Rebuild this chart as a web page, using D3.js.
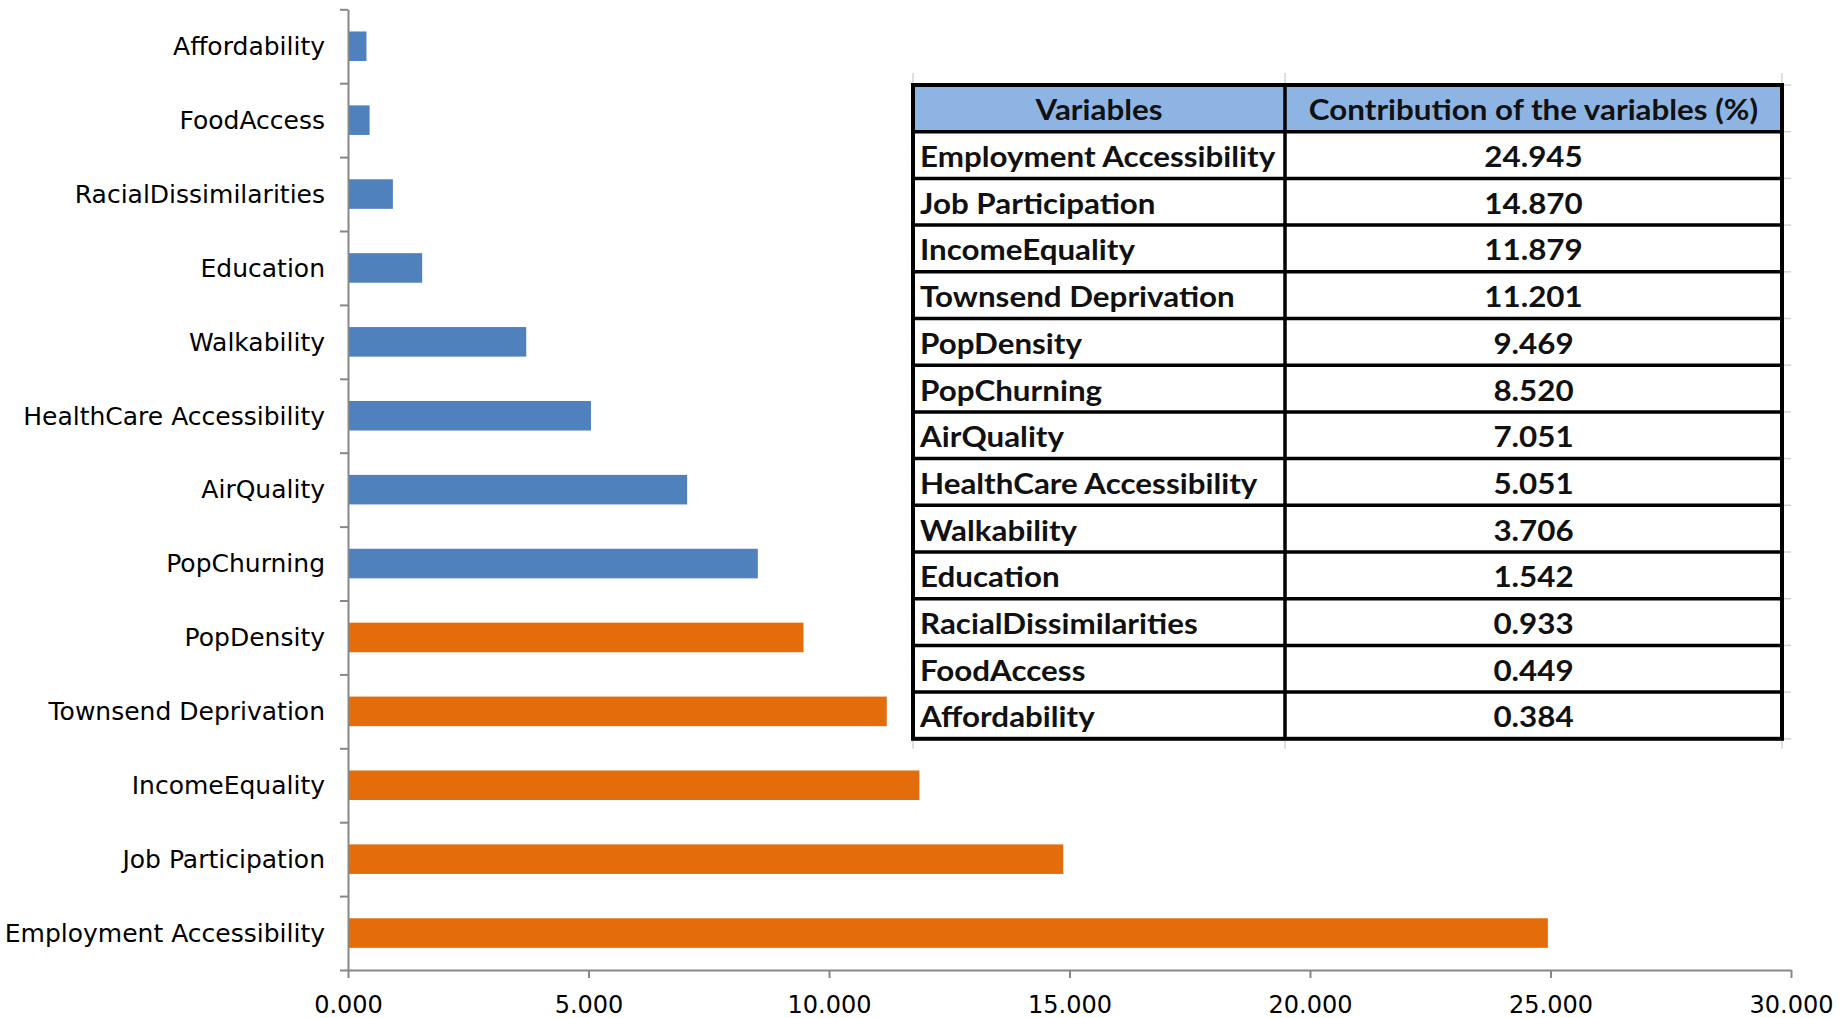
<!DOCTYPE html>
<html><head><meta charset="utf-8">
<script src="https://cdn.jsdelivr.net/npm/d3@7"></script>
<style>html,body{margin:0;padding:0;background:#fff;}svg{display:block}</style>
</head><body><svg id="chart" width="1845" height="1018"></svg>
<script>
// ---- data ----
const variables = ["Employment Accessibility","Job Participation","IncomeEquality","Townsend Deprivation","PopDensity","PopChurning","AirQuality","HealthCare Accessibility","Walkability","Education","RacialDissimilarities","FoodAccess","Affordability"];
const contributions = [24.945,14.870,11.879,11.201,9.469,8.520,7.051,5.051,3.706,1.542,0.933,0.449,0.384];
const groups = ["high","high","high","high","high","low","low","low","low","low","low","low","low"];
const xTickValues = [0,5,10,15,20,25,30];
const tableHeaders = ["Variables","Contribution of the variables (%)"];

// ---- layout ----
const plot = {left:348, right:1791, top:9.3, bottom:970};
const svg = d3.select("#chart");
const x = d3.scaleLinear().domain([0,30]).range([plot.left, plot.right]);
const order = variables.slice().reverse();
const y = d3.scaleBand().domain(order).range([plot.top, plot.bottom]).paddingInner(0.6).paddingOuter(0.3);
const color = d3.scaleOrdinal().domain(["high","low"]).range(["#E46C0A","#4F81BD"]);
const rows = variables.map((v,i)=>({v, c:contributions[i], g:groups[i]}));
const fmt = d3.format(".3f");

// bars
svg.append("g").selectAll("rect").data(rows).join("rect")
  .attr("x", x(0)).attr("y", d=>y(d.v))
  .attr("width", d=>x(d.c)-x(0)).attr("height", y.bandwidth())
  .attr("fill", d=>color(d.g));

// y axis with ticks between categories
const yb = d3.scaleLinear().domain([0, order.length]).range([plot.top, plot.bottom]);
const yAxis = svg.append("g").attr("transform", `translate(${plot.left},0)`)
  .call(d3.axisLeft(yb).tickValues(d3.range(order.length+1)).tickSize(8).tickSizeOuter(0).tickFormat(""));
yAxis.selectAll("path,line").attr("stroke","#878787").attr("stroke-width",2);

// category labels
svg.append("g").selectAll("text").data(order).join("text")
  .attr("x", plot.left-23).attr("y", d=>y(d)+y.bandwidth()/2).attr("dy","0.35em")
  .attr("text-anchor","end").attr("font-family","'DejaVu Sans', sans-serif").attr("font-size",25)
  .attr("fill","#000").text(d=>d);

// x axis
const xAxis = svg.append("g").attr("transform", `translate(0,${plot.bottom})`)
  .call(d3.axisBottom(x).tickValues(xTickValues).tickSize(8).tickSizeOuter(0).tickPadding(18).tickFormat(fmt));
xAxis.selectAll("path,line").attr("stroke","#878787").attr("stroke-width",2);
xAxis.selectAll("text").attr("font-family","'DejaVu Sans', sans-serif").attr("font-size",24).attr("fill","#000");

// ---- table ----
const tb = {left:913, top:85, rowH:46.7, col1:372, col2:497};
const nRows = variables.length + 1;
const tRight = tb.left + tb.col1 + tb.col2;
const tBottom = tb.top + nRows*tb.rowH;
const colX = [tb.left, tb.left+tb.col1, tRight];
const tg = svg.append("g");
const sx = 1.12;
const tFont = "Lato, 'Open Sans', sans-serif";

// faint spreadsheet gridlines outside the table
const grid = tg.append("g").attr("stroke","#d4d4d4").attr("stroke-width",1.5);
colX.forEach(cx=>{
  grid.append("line").attr("x1",cx).attr("x2",cx).attr("y1",tb.top-12).attr("y2",tb.top);
  grid.append("line").attr("x1",cx).attr("x2",cx).attr("y1",tBottom).attr("y2",tBottom+10);
});
d3.range(nRows+1).forEach(i=>{
  grid.append("line").attr("x1",tRight).attr("x2",tRight+9).attr("y1",tb.top+i*tb.rowH).attr("y2",tb.top+i*tb.rowH);
});

// header fill
tg.append("rect").attr("x",tb.left).attr("y",tb.top).attr("width",tb.col1+tb.col2).attr("height",tb.rowH).attr("fill","#8DB4E2");

function tText(g, xPos, yPos, anchor, str){
  g.append("text").attr("transform",`translate(${xPos},${yPos}) scale(${sx},1)`)
    .attr("text-anchor",anchor).attr("font-family",tFont).attr("font-weight","bold")
    .attr("font-size",28).attr("fill","#111").text(str);
}
// header texts
tText(tg, tb.left+tb.col1/2, tb.top+tb.rowH/2+12, "middle", tableHeaders[0]);
tText(tg, tb.left+tb.col1+tb.col2/2, tb.top+tb.rowH/2+12, "middle", tableHeaders[1]);
rows.forEach((r,i)=>{
  const cy = tb.top + (i+1)*tb.rowH + tb.rowH/2 + 12;
  tText(tg, tb.left+7, cy, "start", r.v);
  tText(tg, tb.left+tb.col1+tb.col2/2, cy, "middle", fmt(r.c));
});

// borders
const bd = tg.append("g").attr("stroke","#000").attr("stroke-width",3.5).attr("fill","none");
d3.range(1,nRows).forEach(i=>{
  bd.append("line").attr("x1",tb.left).attr("x2",tRight).attr("y1",tb.top+i*tb.rowH).attr("y2",tb.top+i*tb.rowH);
});
bd.append("line").attr("x1",colX[1]).attr("x2",colX[1]).attr("y1",tb.top).attr("y2",tBottom);
bd.append("rect").attr("x",tb.left).attr("y",tb.top).attr("width",tb.col1+tb.col2).attr("height",nRows*tb.rowH).attr("stroke-width",4);
</script></body></html>
